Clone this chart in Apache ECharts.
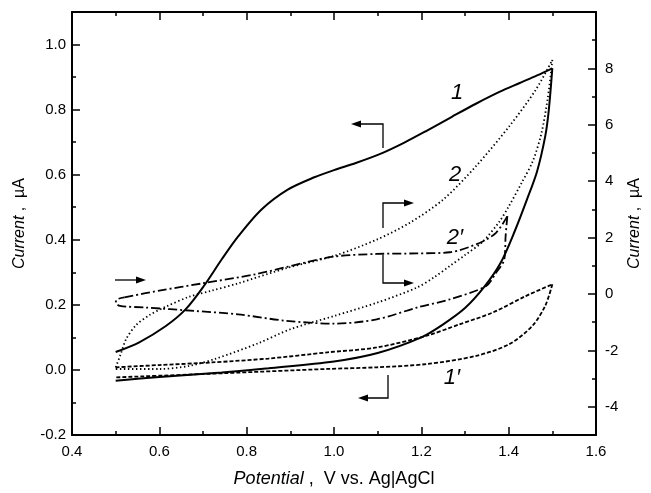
<!DOCTYPE html>
<html>
<head>
<meta charset="utf-8">
<title>Cyclic voltammograms</title>
<script src="https://cdn.jsdelivr.net/npm/echarts@6.0.0/dist/echarts.min.js"></script>
<style>
  html, body { margin: 0; padding: 0; background: #fff; }
  #chart { width: 651px; height: 493px; }
</style>
</head>
<body>
<div id="chart"></div>
<script>
// --- data: [potential V, current] ---
// curve 1 (solid, left axis, µA)
const curve1Forward = [
  [0.5, 0.055], [0.554, 0.085], [0.615, 0.135], [0.66, 0.186], [0.702, 0.258],
  [0.743, 0.34], [0.781, 0.411], [0.834, 0.493], [0.894, 0.554], [0.955, 0.592],
  [1.0, 0.614], [1.05, 0.636], [1.106, 0.664], [1.16, 0.698], [1.212, 0.735],
  [1.27, 0.778], [1.325, 0.818], [1.38, 0.855], [1.424, 0.881], [1.465, 0.905], [1.5, 0.927]
]
const curve1Reverse = [
  [1.5, 0.927], [1.492, 0.8], [1.484, 0.72], [1.465, 0.61], [1.442, 0.524],
  [1.415, 0.43], [1.382, 0.33], [1.344, 0.255], [1.3, 0.19], [1.25, 0.14],
  [1.2, 0.1], [1.1, 0.052], [1.0, 0.026], [0.85, 0.005], [0.743, -0.008],
  [0.6, -0.022], [0.5, -0.033]
]
// curve 1' (short dashes, left axis)
const curve1pUpper = [
  [0.5, 0.008], [0.6, 0.015], [0.72, 0.023], [0.85, 0.035], [0.985, 0.054],
  [1.098, 0.069], [1.212, 0.105], [1.287, 0.14], [1.363, 0.176], [1.439, 0.227], [1.5, 0.263]
]
const curve1pLower = [
  [1.5, 0.263], [1.484, 0.198], [1.454, 0.135], [1.401, 0.079], [1.325, 0.043],
  [1.212, 0.018], [1.098, 0.008], [0.985, 0.003], [0.75, -0.01], [0.5, -0.023]
]
// curve 2 (dotted, right axis)
const curve2Forward = [
  [0.5, -2.6], [0.51, -2.2], [0.524, -1.6], [0.547, -1.1], [0.577, -0.75],
  [0.615, -0.45], [0.668, -0.1], [0.72, 0.12], [0.781, 0.38], [0.894, 0.93],
  [1.0, 1.35], [1.098, 1.93], [1.174, 2.53], [1.25, 3.35], [1.325, 4.53],
  [1.401, 5.94], [1.462, 7.24], [1.5, 8.3]
]
const curve2Reverse = [
  [1.5, 8.3], [1.49, 7.0], [1.475, 5.7], [1.455, 4.7], [1.43, 3.95],
  [1.4, 3.1], [1.378, 2.55], [1.34, 1.85], [1.3, 1.38], [1.265, 0.99],
  [1.23, 0.6], [1.19, 0.23], [1.1, -0.3], [1.0, -0.78], [0.9, -1.25],
  [0.826, -1.75], [0.728, -2.3], [0.668, -2.55], [0.6, -2.66], [0.5, -2.66]
]
// curve 2' (dash-dot, right axis)
const curve2pUpper = [
  [0.52, -0.12], [0.6, 0.12], [0.7, 0.38], [0.82, 0.7], [0.93, 1.1], [1.0, 1.33],
  [1.098, 1.42], [1.19, 1.44], [1.265, 1.48], [1.333, 1.81], [1.371, 2.17], [1.397, 2.76]
]
const curve2pLower = [
  [1.397, 2.76], [1.393, 2.05], [1.39, 1.23], [1.371, 0.75], [1.348, 0.28],
  [1.265, -0.19], [1.19, -0.48], [1.098, -0.9], [1.0, -1.05], [0.89, -0.95],
  [0.78, -0.72], [0.68, -0.6], [0.57, -0.48], [0.51, -0.42], [0.5, -0.3],
  [0.505, -0.18], [0.52, -0.12]
]

// tick label formats
const leftDigits = 1
const xDigits = 1

const FONT = 'Liberation Sans, Arial, sans-serif'
const BLACK = '#000'

const chart = echarts.init(document.getElementById('chart'))

// shared look of the frame axes (ticks drawn inside)
const axisBase = {
  axisLine: { show: true, onZero: false, lineStyle: { color: BLACK, width: 2 } },
  axisTick: { show: true, inside: true, length: 8, lineStyle: { color: BLACK, width: 1.5 } },
  minorTick: { show: true, splitNumber: 2, length: 4, lineStyle: { color: BLACK, width: 1.5 } },
  splitLine: { show: false },
  minorSplitLine: { show: false }
}
const labelBase = { color: BLACK, fontSize: 15, fontFamily: FONT }
const nameRich = (size) => ({
  i: { fontStyle: 'italic', fontSize: size, fontFamily: FONT, color: BLACK },
  n: { fontSize: size, fontFamily: FONT, color: BLACK }
})

const lineSeries = (data, yIdx, type, width) => ({
  type: 'line',
  data: data,
  yAxisIndex: yIdx,
  showSymbol: false,
  symbol: 'none',
  smooth: 0.3,
  silent: true,
  lineStyle: { color: BLACK, width: width, type: type, cap: 'butt' }
})

// --- annotation arrows (pixel positions inside the frame) ---
const stroke = { stroke: BLACK, lineWidth: 1.3, fill: null }
const head = (x, y, dir) => ({
  type: 'polygon',
  shape: { points: dir > 0 ? [[x, y], [x - 10, y - 3.5], [x - 10, y + 3.5]] : [[x, y], [x + 10, y - 3.5], [x + 10, y + 3.5]] },
  style: { fill: BLACK }
})
const bent = (pts) => ({ type: 'polyline', shape: { points: pts }, style: stroke })
const tag = (txt, x, y) => ({
  type: 'text',
  x: x, y: y,
  style: { text: txt, font: 'italic 22px ' + FONT, fill: BLACK, align: 'center', verticalAlign: 'middle' }
})

const option = {
  backgroundColor: '#fff',
  animation: false,
  grid: { left: 72, right: 50, top: 12, bottom: 57, containLabel: false },
  xAxis: [
    {
      type: 'value', min: 0.4, max: 1.6, interval: 0.2, position: 'bottom',
      ...axisBase,
      axisLabel: { ...labelBase, margin: 9, formatter: v => v.toFixed(xDigits) },
      name: '{i|Potential}{n| ,  V vs. Ag|AgCl}',
      nameLocation: 'middle', nameGap: 35, nameMoveOverlap: false,
      nameTextStyle: { rich: nameRich(18) }
    },
    {
      type: 'value', min: 0.4, max: 1.6, interval: 0.2, position: 'top',
      ...axisBase,
      axisLabel: { show: false }
    }
  ],
  yAxis: [
    {
      type: 'value', min: -0.2, max: 1.1, interval: 0.2, position: 'left',
      ...axisBase,
      axisLabel: { ...labelBase, margin: 6, showMaxLabel: false, formatter: v => v.toFixed(leftDigits) },
      name: '{i|Current}{n| ,  µA}',
      nameLocation: 'middle', nameGap: 44, nameRotate: 90, nameMoveOverlap: false,
      nameTextStyle: { rich: nameRich(16) }
    },
    {
      type: 'value', min: -5, max: 10, splitNumber: 7, minInterval: 2, maxInterval: 2, position: 'right',
      ...axisBase,
      axisLabel: { ...labelBase, margin: 9, showMinLabel: false, showMaxLabel: false, formatter: v => String(v) },
      name: '{i|Current}{n| ,  µA}',
      nameLocation: 'middle', nameGap: 31, nameRotate: 90, nameMoveOverlap: false,
      nameTextStyle: { rich: nameRich(16) }
    }
  ],
  series: [
    lineSeries(curve1Forward, 0, 'solid', 2),
    lineSeries(curve1Reverse, 0, 'solid', 2),
    lineSeries(curve1pUpper, 0, [4, 2], 1.8),
    lineSeries(curve1pLower, 0, [4, 2], 1.8),
    lineSeries(curve2Forward, 1, [1.4, 2.6], 1.8),
    lineSeries(curve2Reverse, 1, [1.4, 2.6], 1.8),
    lineSeries(curve2pUpper, 1, [9, 3, 2, 3], 1.8),
    lineSeries(curve2pLower, 1, [9, 3, 2, 3], 1.8)
  ],
  graphic: [
    // curve 1 -> left axis
    bent([[383, 148], [383, 124], [360, 124]]), head(351, 124, -1),
    // curve 2 -> right axis
    bent([[383, 228], [383, 203], [405, 203]]), head(414, 203, 1),
    // curve 2' -> right axis
    bent([[383, 255], [383, 283], [405, 283]]), head(414, 283, 1),
    // curve 1' -> left axis
    bent([[388, 375], [388, 398], [367, 398]]), head(358, 398, -1),
    // scan direction
    bent([[115, 280], [137, 280]]), head(146, 280, 1),
    tag('1', 457, 93),
    tag('2', 455, 175),
    tag('2\u2032', 455, 238),
    tag('1\u2032', 452, 378)
  ]
}

chart.setOption(option)
</script>
</body>
</html>
